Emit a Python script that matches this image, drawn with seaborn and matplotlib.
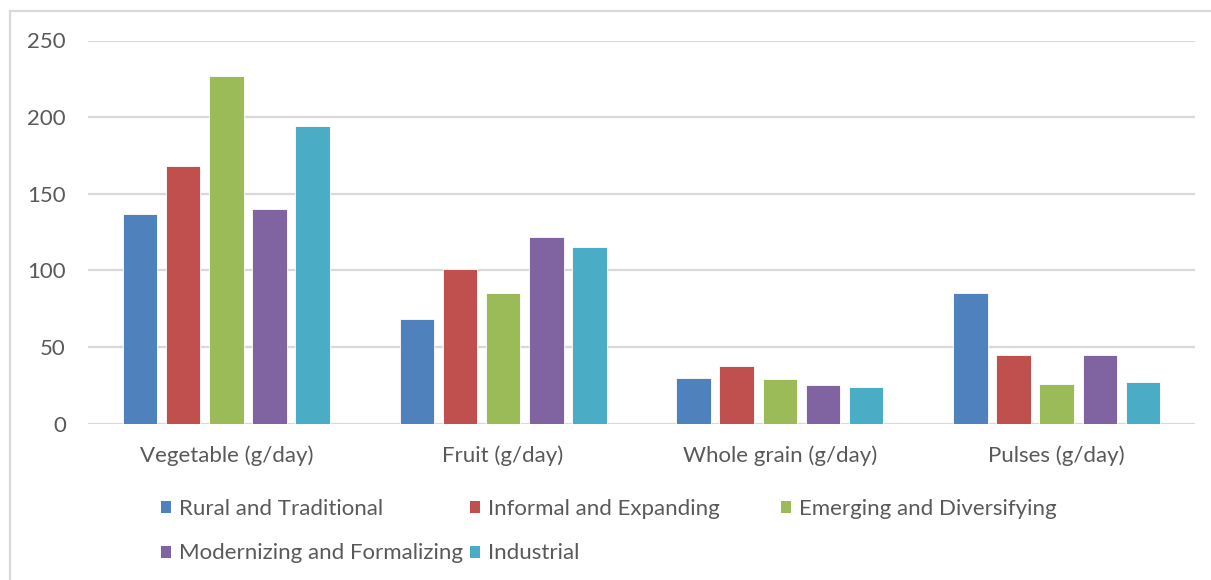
import matplotlib
matplotlib.use("Agg")
import matplotlib.pyplot as plt
import seaborn as sns
import pandas as pd
from matplotlib.patches import Rectangle

categories = ["Vegetable (g/day)", "Fruit (g/day)", "Whole grain (g/day)", "Pulses (g/day)"]
series_names = ["Rural and Traditional", "Informal and Expanding", "Emerging and Diversifying",
                "Modernizing and Formalizing", "Industrial"]
rural = [137, 68, 30, 85]
informal = [168, 101, 37.5, 45]
emerging = [227, 85, 29, 26]
modernizing = [140, 122, 25, 45]
industrial = [194, 115, 23.5, 27]
colors = ["#4F81BD", "#C0504D", "#9BBB59", "#8064A2", "#4BACC6"]
yticks = [0, 50, 100, 150, 200, 250]

all_series = [rural, informal, emerging, modernizing, industrial]
rows = []
for name, vals in zip(series_names, all_series):
    for cat, v in zip(categories, vals):
        rows.append({"category": cat, "series": name, "value": v})
df = pd.DataFrame(rows)

sns.set_theme(style="white")
FONT = ["Lato", "DejaVu Sans"]
plt.rcParams["font.family"] = FONT
TXT = "#595959"
FS = 16

W, H = 1211, 580
fig = plt.figure(figsize=(W / 100, H / 100), dpi=100)
ax = fig.add_axes([88 / W, 1 - 423.5 / H, (1195 - 88) / W, (423.5 - 40.5) / H])

sns.barplot(data=df, x="category", y="value", hue="series", order=categories,
            hue_order=series_names, palette=colors, width=0.78, gap=0.2,
            edgecolor="white", linewidth=0.6, saturation=1, ax=ax, legend=True)

ax.set_ylim(0, 250)
ax.set_xlim(-0.5, 3.5)
ax.set_yticks(yticks)
ax.set_yticklabels([str(t) for t in yticks])
ax.set_xlabel("")
ax.set_ylabel("")
ax.yaxis.grid(True, color="#D9D9D9", linewidth=1.6)
ax.set_axisbelow(True)
for s in ["top", "right", "left", "bottom"]:
    ax.spines[s].set_visible(False)
ax.axhline(0, color="#D9D9D9", linewidth=1.8, zorder=0.5)
ax.tick_params(axis="y", length=0, pad=16, labelsize=FS, labelcolor=TXT)
ax.tick_params(axis="x", length=0, pad=15.5, labelsize=FS, labelcolor=TXT)

handles, labels = ax.get_legend_handles_labels()
ax.get_legend().remove()

col_x = [161, 470, 781]
col_items = [[0, 3], [1, 4], [2]]
for cx, items in zip(col_x, col_items):
    leg = fig.legend([handles[i] for i in items], [labels[i] for i in items],
                     loc="upper left", bbox_to_anchor=(cx / W, 1 - 499 / H),
                     frameon=False, fontsize=FS, handlelength=0.45, handleheight=0.45,
                     handletextpad=0.36, labelspacing=1.1, borderpad=0, borderaxespad=0)
    for t in leg.get_texts():
        t.set_color(TXT)
    for h in leg.legend_handles:
        h.set_edgecolor("none")

fig.patches.append(Rectangle((10 / W, -0.1), 1.2, 1.1 - 11 / H, transform=fig.transFigure,
                             fill=False, edgecolor="#D9D9D9", linewidth=1.6))

fig.savefig("out.png", dpi=100, facecolor="white")
